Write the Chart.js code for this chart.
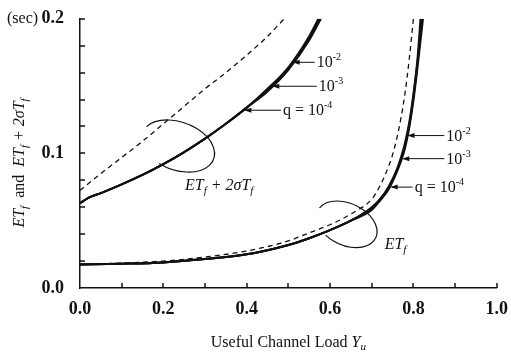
<!DOCTYPE html>
<html>
<head>
<meta charset="utf-8">
<script src="https://cdn.jsdelivr.net/npm/chart.js@4"></script>
<style>
  html, body { margin: 0; padding: 0; background: #fff; }
  #wrap { width: 511px; height: 356px; }
</style>
</head>
<body>
<div id="wrap"><canvas id="loadChart" width="511" height="356"></canvas></div>
<script>
// values
const xTicks = [0, 0.2, 0.4, 0.6, 0.8, 1.0];
const yTicks = [0, 0.1, 0.2];

// ET_f + 2 sigma T_f
const upperDashX = [0, 0.05, 0.1, 0.15, 0.2, 0.25, 0.3, 0.35, 0.4, 0.45, 0.49];
const upperDashY = [0.0725, 0.085, 0.097, 0.109, 0.122, 0.135, 0.148, 0.160, 0.173, 0.187, 0.2];
const upperQ2X = [0, 0.02, 0.05, 0.1, 0.15, 0.2, 0.25, 0.3, 0.35, 0.4, 0.45, 0.5, 0.55, 0.572];
const upperQ2Y = [0.063, 0.067, 0.0705, 0.077, 0.084, 0.092, 0.101, 0.111, 0.122, 0.134, 0.148, 0.164, 0.187, 0.2];
const upperQ3X = [0, 0.02, 0.05, 0.1, 0.15, 0.2, 0.25, 0.3, 0.35, 0.4, 0.45, 0.5, 0.55, 0.575];
const upperQ3Y = [0.063, 0.067, 0.0705, 0.077, 0.084, 0.092, 0.101, 0.111, 0.122, 0.134, 0.147, 0.163, 0.186, 0.2];
const upperQ4X = [0, 0.02, 0.05, 0.1, 0.15, 0.2, 0.25, 0.3, 0.35, 0.4, 0.45, 0.5, 0.55, 0.578];
const upperQ4Y = [0.063, 0.067, 0.0705, 0.077, 0.084, 0.092, 0.101, 0.111, 0.122, 0.134, 0.146, 0.162, 0.184, 0.2];

// ET_f
const lowerDashX = [0, 0.1, 0.2, 0.3, 0.4, 0.5, 0.55, 0.6, 0.65, 0.7, 0.72, 0.74, 0.75, 0.76, 0.77, 0.78, 0.79, 0.8];
const lowerDashY = [0.0175, 0.0185, 0.020, 0.023, 0.0275, 0.035, 0.041, 0.047, 0.055, 0.066, 0.076, 0.090, 0.099, 0.111, 0.126, 0.145, 0.170, 0.2];
const lowerQ2X = [0, 0.1, 0.2, 0.3, 0.4, 0.5, 0.55, 0.6, 0.65, 0.7, 0.72, 0.74, 0.76, 0.77, 0.78, 0.79, 0.8, 0.81, 0.817];
const lowerQ2Y = [0.0175, 0.018, 0.019, 0.0215, 0.025, 0.032, 0.037, 0.043, 0.050, 0.060, 0.066, 0.075, 0.088, 0.097, 0.108, 0.123, 0.144, 0.171, 0.2];
const lowerQ3X = [0, 0.1, 0.2, 0.3, 0.4, 0.5, 0.55, 0.6, 0.65, 0.7, 0.72, 0.74, 0.76, 0.77, 0.78, 0.79, 0.8, 0.81, 0.82];
const lowerQ3Y = [0.0175, 0.018, 0.019, 0.0215, 0.025, 0.032, 0.037, 0.043, 0.050, 0.059, 0.066, 0.074, 0.087, 0.095, 0.106, 0.121, 0.142, 0.168, 0.2];
const lowerQ4X = [0, 0.1, 0.2, 0.3, 0.4, 0.5, 0.55, 0.6, 0.65, 0.7, 0.72, 0.74, 0.76, 0.77, 0.78, 0.79, 0.8, 0.81, 0.823];
const lowerQ4Y = [0.0175, 0.018, 0.019, 0.0215, 0.025, 0.032, 0.037, 0.043, 0.050, 0.058, 0.065, 0.073, 0.086, 0.094, 0.104, 0.119, 0.139, 0.164, 0.2];

const qExponents = ['-2', '-3', '-4'];

const SERIF = '"Liberation Serif", "DejaVu Serif", serif';
const INK = '#111';

const toPoints = (xs, ys) => xs.map((x, i) => ({ x: x, y: ys[i] }));

function solid(label, xs, ys) {
  return {
    label: label, data: toPoints(xs, ys),
    borderColor: INK, borderWidth: 2, pointRadius: 0,
    cubicInterpolationMode: 'monotone', fill: false
  };
}
function dashed(label, xs, ys) {
  return {
    label: label, data: toPoints(xs, ys),
    borderColor: INK, borderWidth: 1.3, borderDash: [5, 4], pointRadius: 0,
    cubicInterpolationMode: 'monotone', fill: false
  };
}

// draws a run of text pieces, some italic / sub / superscript
function richWidth(ctx, parts) {
  let w = 0;
  parts.forEach(p => { ctx.font = p.f; w += ctx.measureText(p.t).width; });
  return w;
}
function drawRich(ctx, parts, x, y, align) {
  let cx = x;
  const w = richWidth(ctx, parts);
  if (align === 'center') cx = x - w / 2;
  ctx.textBaseline = 'alphabetic';
  ctx.textAlign = 'left';
  parts.forEach(p => {
    ctx.font = p.f;
    ctx.fillText(p.t, cx, y + (p.dy || 0));
    cx += ctx.measureText(p.t).width;
  });
  return w;
}

const it = 'italic 16px ' + SERIF;
const rm = '16px ' + SERIF;
const sub = 'italic 11px ' + SERIF;
const sup = '10px ' + SERIF;
const etf = [{ t: 'ET', f: it }, { t: 'f', f: sub, dy: 4 }];
const etf2 = [{ t: 'ET', f: it }, { t: 'f', f: sub, dy: 4 }, { t: ' + 2', f: it }, { t: 'σT', f: it }, { t: 'f', f: sub, dy: 4 }];

// interpolate along a dataset so an arrow touches its curve
function yOn(xs, ys, x) {
  for (let i = 1; i < xs.length; i++) {
    if (x <= xs[i]) {
      const t = (x - xs[i - 1]) / (xs[i] - xs[i - 1]);
      return ys[i - 1] + t * (ys[i] - ys[i - 1]);
    }
  }
  return ys[ys.length - 1];
}

const arrows = [
  { xs: upperQ2X, ys: upperQ2Y, tip: 0.508, text: 0.568, q: false, e: qExponents[0] },
  { xs: upperQ3X, ys: upperQ3Y, tip: 0.459, text: 0.573, q: false, e: qExponents[1] },
  { xs: upperQ4X, ys: upperQ4Y, tip: 0.392, text: 0.487, q: true, e: qExponents[2] },
  { xs: lowerQ2X, ys: lowerQ2Y, tip: 0.7835, text: 0.879, q: false, e: qExponents[0] },
  { xs: lowerQ3X, ys: lowerQ3Y, tip: 0.771, text: 0.879, q: false, e: qExponents[1] },
  { xs: lowerQ4X, ys: lowerQ4Y, tip: 0.743, text: 0.803, q: true, e: qExponents[2] }
];

const loops = [
  { x: 0.235, y: 0.1055, rx: 38, ry: 24, rot: 20, a0: 1.1, a1: 2.6 },
  { x: 0.640, y: 0.0473, rx: 32, ry: 21, rot: 25, a0: 1.05, a1: 2.65 }
];

const decor = {
  id: 'decor',
  afterDraw(chart) {
    const ctx = chart.ctx;
    const xs = chart.scales.x, ys = chart.scales.y;
    const left = xs.left, bottom = ys.bottom;
    ctx.save();
    ctx.fillStyle = INK;
    ctx.strokeStyle = INK;
    ctx.setLineDash([]);

    // inward tick marks, every 0.1 on x and every 0.02 on y
    ctx.lineWidth = 1.5;
    for (let i = 1; i <= 10; i++) {
      const px = Math.round(xs.getPixelForValue(i / 10));
      ctx.beginPath();
      ctx.moveTo(px, bottom); ctx.lineTo(px, bottom - 5);
      ctx.stroke();
      const py = Math.round(ys.getPixelForValue(i / 50));
      ctx.beginPath();
      ctx.moveTo(left, py); ctx.lineTo(left + 5, py);
      ctx.stroke();
    }

    // loops around the curve groups
    ctx.lineWidth = 1.2;
    loops.forEach(l => {
      ctx.beginPath();
      ctx.ellipse(xs.getPixelForValue(l.x), ys.getPixelForValue(l.y), l.rx, l.ry,
        l.rot * Math.PI / 180, l.a0 * Math.PI, l.a1 * Math.PI);
      ctx.stroke();
    });

    // curve group labels
    drawRich(ctx, etf2, xs.getPixelForValue(0.252), ys.getPixelForValue(0.0764) + 5, 'left');
    drawRich(ctx, etf, xs.getPixelForValue(0.731), ys.getPixelForValue(0.0327) + 5, 'left');

    // q arrows
    ctx.lineWidth = 1;
    arrows.forEach(a => {
      const tx = xs.getPixelForValue(a.tip);
      const ty = ys.getPixelForValue(yOn(a.xs, a.ys, a.tip));
      const lx = xs.getPixelForValue(a.text);
      ctx.beginPath();
      ctx.moveTo(lx - 2, ty); ctx.lineTo(tx + 2, ty);
      ctx.stroke();
      ctx.beginPath();
      ctx.moveTo(tx + 1, ty); ctx.lineTo(tx + 8, ty - 2.5); ctx.lineTo(tx + 8, ty + 2.5);
      ctx.closePath(); ctx.fill();
      const parts = [];
      if (a.q) parts.push({ t: 'q = ', f: rm });
      parts.push({ t: '10', f: rm }, { t: a.e, f: sup, dy: -7 });
      drawRich(ctx, parts, lx, ty + 5, 'left');
    });

    // (sec) unit
    ctx.font = rm;
    ctx.textAlign = 'left';
    ctx.textBaseline = 'middle';
    ctx.fillText('(sec)', 7, ys.getPixelForValue(0.2));

    // axis titles
    drawRich(ctx, [{ t: 'Useful Channel Load ', f: rm }, { t: 'Y', f: it }, { t: 'u', f: sub, dy: 3 }],
      (xs.left + xs.right) / 2, 347, 'center');
    ctx.save();
    ctx.translate(24, 163);
    ctx.rotate(-Math.PI / 2);
    drawRich(ctx, etf.concat([{ t: '  and  ', f: rm }], etf2), 0, 0, 'center');
    ctx.restore();

    ctx.restore();
  }
};

const ctx = document.getElementById('loadChart').getContext('2d');
const loadChart = new Chart(ctx, {
  type: 'line',
  data: {
    datasets: [
      dashed('ETf + 2σTf (dashed)', upperDashX, upperDashY),
      solid('ETf + 2σTf, q = 1e-2', upperQ2X, upperQ2Y),
      solid('ETf + 2σTf, q = 1e-3', upperQ3X, upperQ3Y),
      solid('ETf + 2σTf, q = 1e-4', upperQ4X, upperQ4Y),
      dashed('ETf (dashed)', lowerDashX, lowerDashY),
      solid('ETf, q = 1e-2', lowerQ2X, lowerQ2Y),
      solid('ETf, q = 1e-3', lowerQ3X, lowerQ3Y),
      solid('ETf, q = 1e-4', lowerQ4X, lowerQ4Y)
    ]
  },
  options: {
    responsive: false,
    animation: false,
    layout: { padding: { left: 0, right: 14, top: 13, bottom: 0 } },
    scales: {
      x: {
        type: 'linear', min: 0, max: 1,
        afterFit: s => { s.height = 68; },
        afterBuildTicks: s => { s.ticks = xTicks.map(v => ({ value: v })); },
        grid: { display: false },
        border: { display: true, color: INK, width: 1.5 },
        ticks: {
          color: INK, padding: 3,
          font: { family: SERIF, size: 18, weight: 'bold' },
          callback: v => v.toFixed(1)
        }
      },
      y: {
        type: 'linear', min: 0, max: 0.2,
        afterFit: s => { s.width = 80; },
        afterBuildTicks: s => { s.ticks = yTicks.map(v => ({ value: v })); },
        grid: { display: false },
        border: { display: true, color: INK, width: 1.5 },
        ticks: {
          color: INK, padding: 8,
          font: { family: SERIF, size: 18, weight: 'bold' },
          callback: v => v.toFixed(1)
        }
      }
    },
    plugins: {
      legend: { display: false },
      tooltip: { enabled: false }
    }
  },
  plugins: [decor]
});
</script>
</body>
</html>
